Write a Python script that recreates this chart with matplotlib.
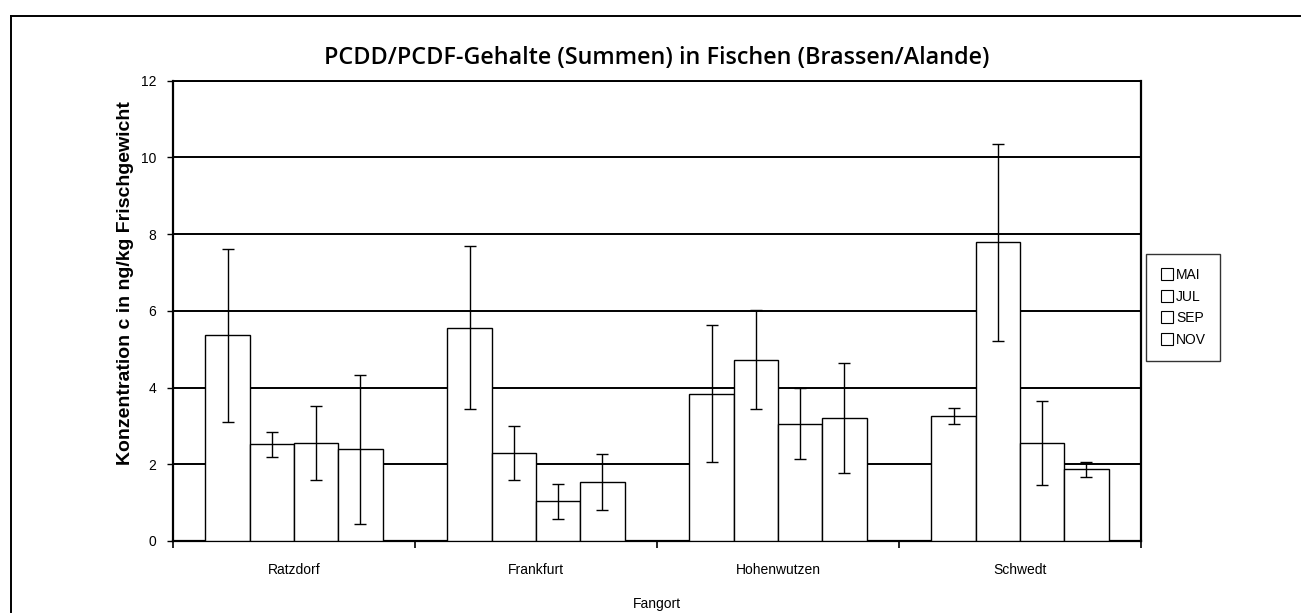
import matplotlib
matplotlib.use("Agg")
import matplotlib.pyplot as plt
from matplotlib.lines import Line2D
import numpy as np

plt.rcParams['font.family'] = ['Liberation Sans', 'DejaVu Sans']

categories = ["Ratzdorf", "Frankfurt", "Hohenwutzen", "Schwedt"]
series_names = ["MAI", "JUL", "SEP", "NOV"]
values = {
    "MAI": [5.36, 5.56, 3.84, 3.27],
    "JUL": [2.52, 2.30, 4.73, 7.79],
    "SEP": [2.55, 1.03, 3.06, 2.55],
    "NOV": [2.39, 1.53, 3.21, 1.87],
}
errors = {
    "MAI": [2.25, 2.12, 1.78, 0.21],
    "JUL": [0.33, 0.71, 1.30, 2.57],
    "SEP": [0.97, 0.45, 0.93, 1.10],
    "NOV": [1.94, 0.73, 1.43, 0.20],
}
yticks = [0, 2, 4, 6, 8, 10, 12]

W, H = 1307, 616
fig = plt.figure(figsize=(W / 100, H / 100), dpi=100)
ax = fig.add_axes([173 / W, 1 - 541 / H, (1141 - 173) / W, (541 - 80.7) / H])

x = np.arange(len(categories))
bw = 0.183
for i, s in enumerate(series_names):
    off = (i - 1.5) * bw
    ax.bar(x + off, values[s], width=bw, color="white", edgecolor="black",
           linewidth=1.0, zorder=3)
    ax.errorbar(x + off, values[s], yerr=errors[s], fmt="none", ecolor="black",
                elinewidth=1.0, capsize=4.5, capthick=1.0, zorder=4)

ax.set_xlim(-0.5, 3.5)
ax.set_ylim(0, 12)
ax.set_yticks(yticks)
ax.set_yticklabels([str(t) for t in yticks], fontsize=10)
for t in yticks[1:]:
    ax.axhline(t, color="black", linewidth=1.4, zorder=1)

ax.set_xticks(x)
ax.set_xticklabels(categories, fontsize=10)
ax.tick_params(axis="x", which="major", length=0, pad=16)
ax.set_xticks(np.arange(-0.5, 4.0, 1.0), minor=True)
ax.tick_params(axis="x", which="minor", length=5, width=1.2, direction="out")
ax.tick_params(axis="y", length=4, width=1.0, direction="out", pad=8)

for sp in ["left", "bottom"]:
    ax.spines[sp].set_linewidth(1.6)
ax.spines["top"].set_linewidth(1.4)
ax.spines["right"].set_linewidth(1.6)

ax.set_ylabel("Konzentration c in ng/kg Frischgewicht", fontsize=14,
              fontweight="bold")
ax.yaxis.set_label_coords(-0.04, (541 - 283) / 460.3)
ax.set_xlabel("Fangort", fontsize=10, labelpad=14)

fig.text(657 / W, 1 - 58 / H, "PCDD/PCDF-Gehalte (Summen) in Fischen (Brassen/Alande)",
         ha="center", va="center", fontsize=16.8, fontweight="semibold",
         family=["Open Sans", "DejaVu Sans"])

handles = [Line2D([], [], marker="s", markersize=8, markerfacecolor="white",
                  markeredgecolor="black", markeredgewidth=0.8, linestyle="none")
           for _ in series_names]
leg = fig.legend(handles, series_names, loc="upper left",
                 bbox_to_anchor=(1146 / W, 1 - 254 / H), fontsize=10,
                 frameon=True, fancybox=False, edgecolor="black",
                 handletextpad=0.15, handlelength=1.0, borderpad=1.0,
                 labelspacing=0.55, borderaxespad=0)
leg.get_frame().set_linewidth(1.0)

# outer border (top and left edges)
fig.add_artist(Line2D([11 / W, 1300 / W], [1 - 16 / H, 1 - 16 / H],
                      color="black", linewidth=1.4, transform=fig.transFigure))
fig.add_artist(Line2D([11 / W, 11 / W], [1 - 16 / H, 1 - 612 / H],
                      color="black", linewidth=1.4, transform=fig.transFigure))

fig.savefig("out.png", dpi=100, facecolor="white")
